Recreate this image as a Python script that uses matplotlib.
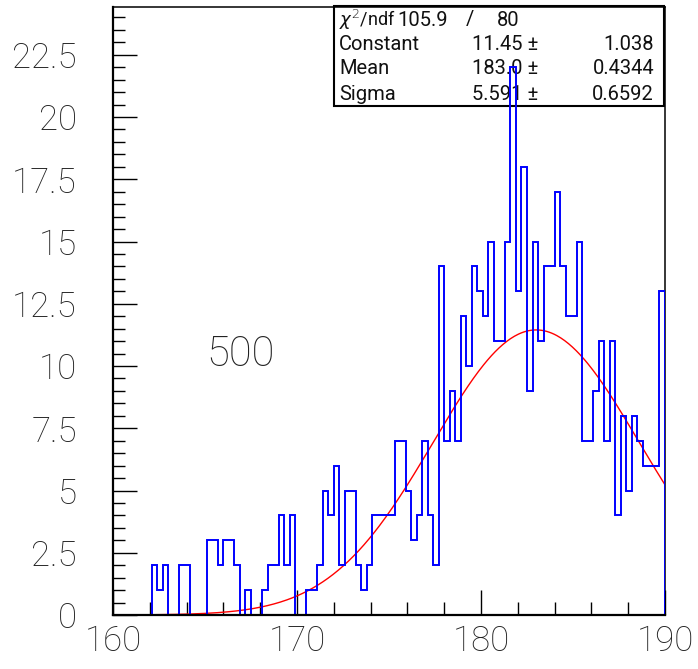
import numpy as np
import matplotlib
matplotlib.use("Agg")
import matplotlib.pyplot as plt
from matplotlib.patches import Rectangle
from matplotlib.ticker import MultipleLocator

plt.rcParams["font.family"] = ["Roboto", "DejaVu Sans"]
plt.rcParams["font.weight"] = "light"
plt.rcParams["mathtext.fontset"] = "dejavusans"

# histogram: 100 bins from 160 to 190
x_min, x_max, n_bins = 160.0, 190.0, 100
counts = [0, 0, 0, 0, 0, 0, 0, 2, 1, 2,
          0, 0, 2, 2, 0, 0, 0, 3, 3, 2,
          3, 3, 2, 0, 1, 0, 0, 1, 2, 2,
          4, 2, 4, 0, 0, 1, 1, 2, 5, 4,
          6, 2, 5, 5, 2, 1, 2, 4, 4, 4,
          4, 7, 7, 5, 3, 4, 7, 4, 2, 14,
          7, 9, 7, 12, 10, 14, 13, 12, 15, 11,
          11, 15, 22, 13, 18, 9, 15, 11, 14, 14,
          17, 14, 12, 12, 15, 7, 7, 9, 11, 7,
          11, 4, 8, 5, 8, 7, 6, 6, 6, 13]

# gaussian fit result
fit_const, fit_const_err = 11.45, 1.038
fit_mean, fit_mean_err = 183.0, 0.4344
fit_sigma, fit_sigma_err = 5.591, 0.6592
chi2, ndf = 105.9, 80
fit_lo, fit_hi = 162.1, 190.0

xticks = [160, 170, 180, 190]
yticks = [0, 2.5, 5, 7.5, 10, 12.5, 15, 17.5, 20, 22.5]
ytick_labels = ["0", "2.5", "5", "7.5", "10", "12.5", "15", "17.5", "20", "22.5"]

W, H = 698, 669
fig = plt.figure(figsize=(W / 100, H / 100), dpi=100)
fx = lambda px: px / W
fy = lambda py: (H - py) / H

ax = fig.add_axes([fx(113), fy(615), fx(665) - fx(113), fy(7) - fy(615)])

edges = np.linspace(x_min, x_max, n_bins + 1)
ax.stairs(counts, edges, color="#0000ff", lw=1.4, zorder=2.6)

xf = np.linspace(fit_lo, fit_hi, 400)
yf = fit_const * np.exp(-0.5 * ((xf - fit_mean) / fit_sigma) ** 2)
ax.plot(xf, yf, color="#ff0000", lw=1.0, zorder=2.4)

ax.set_xlim(x_min, x_max)
ax.set_ylim(0, 24.42)

ax.set_xticks(xticks)
ax.set_xticklabels([str(t) for t in xticks])
ax.xaxis.set_minor_locator(MultipleLocator(2))
ax.set_yticks(yticks)
ax.set_yticklabels(ytick_labels)
ax.yaxis.set_minor_locator(MultipleLocator(0.5))

ax.tick_params(axis="x", which="major", direction="in", length=18, width=1.0,
               labelsize=25, pad=7, top=False, labelcolor="#222222")
ax.tick_params(axis="x", which="minor", direction="in", length=9.5, width=1.0, top=False)
ax.tick_params(axis="y", which="major", direction="in", length=17, width=1.0,
               labelsize=25, pad=26, right=False, labelcolor="#222222")
ax.tick_params(axis="y", which="minor", direction="in", length=8.5, width=1.0, right=False)

for side in ["left", "bottom"]:
    ax.spines[side].set_linewidth(1.6)
for side in ["top", "right"]:
    ax.spines[side].set_linewidth(1.1)
ax.spines["bottom"].set_zorder(3)
ax.spines["left"].set_zorder(3)

# stats box
box = Rectangle((fx(334), fy(106)), fx(664) - fx(334), fy(6) - fy(106),
                transform=fig.transFigure, facecolor="white", edgecolor="black",
                lw=1.5, zorder=2.5, clip_on=False)
ax.add_patch(box)

fs = 14.5
tk = dict(transform=fig.transFigure, fontsize=fs, zorder=2.55, va="center",
          color="#111111", fontweight="normal")
rows = [
    ("Constant", f"{fit_const:.2f} \u00b1", f"{fit_const_err:.3f}"),
    ("Mean", f"{fit_mean:.1f} \u00b1", f"{fit_mean_err:.4f}"),
    ("Sigma", f"{fit_sigma:.3f} \u00b1", f"{fit_sigma_err:.4f}"),
]
ax.text(fx(339), fy(20), r"$\chi^2$/ndf", ha="left",
        **{**tk, "fontsize": 13})
ax.text(fx(448), fy(20), f"{chi2:.1f}", ha="right", **tk)
ax.text(fx(470), fy(20), "/", ha="center", **tk)
ax.text(fx(519), fy(20), f"{ndf}", ha="right", **tk)
for i, (name, val, err) in enumerate(rows):
    yy = fy(44 + 25 * i)
    ax.text(fx(339), yy, name, ha="left", **tk)
    ax.text(fx(538), yy, val, ha="right", **tk)
    ax.text(fx(654), yy, err, ha="right", **tk)

ax.text(fx(240), fy(355), "500", transform=fig.transFigure, fontsize=30,
        ha="center", va="center", color="#222222")

fig.savefig("out.png", dpi=100)
